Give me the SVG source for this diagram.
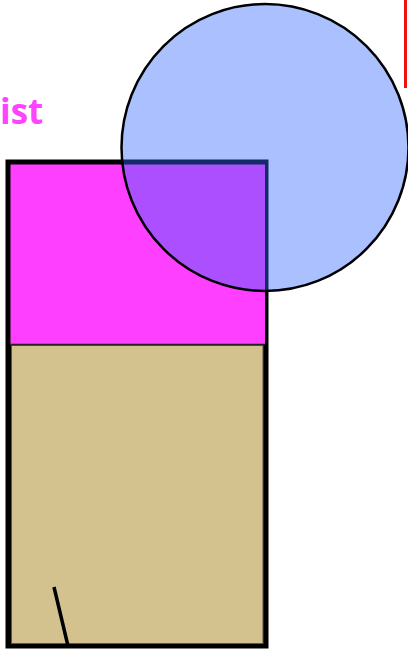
<svg xmlns="http://www.w3.org/2000/svg" width="408" height="650" viewBox="0 0 408 650">
<style>
.lbl{font-family:"Open Sans","Noto Sans",sans-serif;font-weight:bold;font-size:35px;fill:#ff44ff}
</style>
<rect width="408" height="650" fill="#ffffff"/>
<g id="box">
<rect x="8" y="162" width="258" height="484" fill="#000000" stroke="#000000" stroke-width="5"/>
<rect x="10.5" y="164.5" width="254.5" height="180" fill="#ff3fff"/>
<rect x="11.5" y="345.5" width="251.5" height="298" fill="#d4c28e" stroke="#555555" stroke-width="1"/>
<line x1="10" y1="344.5" x2="265" y2="344.5" stroke="#222222" stroke-width="1.5"/>
</g>
<g id="label"><text class="lbl" x="0" y="124">ist</text></g>
<g id="redline"><line x1="405.5" y1="0" x2="405.5" y2="88" stroke="#ee1111" stroke-width="3"/></g>
<g id="circle"><circle cx="265" cy="147.5" r="143.5" fill="#3366ff" fill-opacity="0.41" stroke="#000000" stroke-width="2.5"/></g>
<g id="connectors"><line x1="54" y1="587" x2="68" y2="646" stroke="#000000" stroke-width="3.5"/></g>
</svg>
